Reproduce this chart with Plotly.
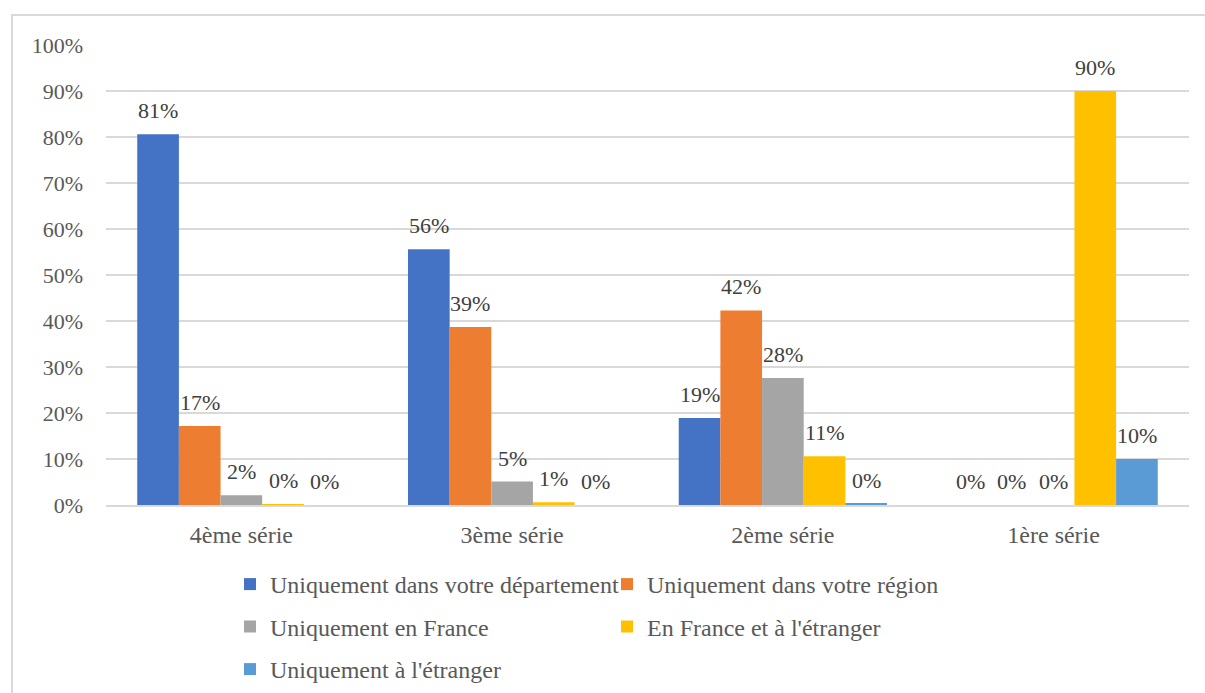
import plotly.graph_objects as go

# Catégories (séries) et parts de chaque zone de diffusion
series = ["4ème série", "3ème série", "2ème série", "1ère série"]
departement = [0.806, 0.556, 0.189, 0.0]
region = [0.172, 0.387, 0.423, 0.0]
france = [0.021, 0.051, 0.276, 0.0]
france_etranger = [0.002, 0.006, 0.106, 0.90]
etranger = [0.0, 0.0, 0.003, 0.10]

noms = [
    "Uniquement dans votre département",
    "Uniquement dans votre région",
    "Uniquement en France",
    "En France et à l'étranger",
    "Uniquement à l'étranger",
]
couleurs = ["#4472C4", "#ED7D31", "#A5A5A5", "#FFC000", "#5B9BD5"]
valeurs = [departement, region, france, france_etranger, etranger]
# ligne de légende (2 entrées par ligne)
lignes_legende = ["legend", "legend", "legend2", "legend2", "legend3"]

FONT = "'Liberation Serif', 'DejaVu Serif', 'Times New Roman', serif"
BARGAP = 0.2308
n = len(valeurs)
largeur = (1 - BARGAP) / n

L, R, T, B = 106, 16, 45, 188
W, H = 1205, 693
pw, ph = W - L - R, H - T - B


def py(y_px):
    """Position verticale en pixels -> coordonnée paper."""
    return 1 - (y_px - T) / ph


def px(x_px):
    """Position horizontale en pixels -> coordonnée paper."""
    return (x_px - L) / pw


fig = go.Figure()
annotations = []
for j, (nom, coul, vals, leg) in enumerate(zip(noms, couleurs, valeurs, lignes_legende)):
    fig.add_trace(go.Bar(
        x=series, y=vals, name=nom, legend=leg,
        marker=dict(color=coul, line=dict(width=0)),
        hoverinfo="skip",
    ))
    for i, v in enumerate(vals):
        annotations.append(dict(
            x=i + (j - (n - 1) / 2) * largeur, y=v, xref="x", yref="y",
            text=f"{round(v * 100):.0f}%", showarrow=False,
            yanchor="bottom", yshift=9,
            font=dict(family=FONT, size=22, color="#404040"),
        ))

# Cadre du graphique
bord = dict(type="rect", xref="paper", yref="paper",
            x0=px(12), x1=px(W + 20), y0=py(H + 20), y1=py(15),
            line=dict(color="#D9D9D9", width=2), fillcolor="rgba(0,0,0,0)",
            layer="below")

legende = dict(
    orientation="h", x=px(230), xanchor="left", yanchor="middle",
    entrywidth=332, entrywidthmode="pixels",
    font=dict(family=FONT, size=24, color="#595959"),
    itemwidth=30, traceorder="normal",
    bgcolor="rgba(0,0,0,0)",
)

fig.update_layout(
    width=W, height=H,
    margin=dict(l=L, r=R, t=T, b=B, autoexpand=False),
    paper_bgcolor="white", plot_bgcolor="white",
    barmode="group", bargap=BARGAP, bargroupgap=0,
    font=dict(family=FONT, color="#595959"),
    annotations=annotations,
    shapes=[bord],
    showlegend=True,
    legend=dict(legende, y=py(584.5)),
    legend2=dict(legende, y=py(627)),
    legend3=dict(legende, y=py(669.5)),
    xaxis=dict(
        type="category", showgrid=False, showline=True,
        linecolor="#D9D9D9", linewidth=1.5, ticks="",
        tickfont=dict(family=FONT, size=24, color="#595959"),
        ticklabelstandoff=7,
    ),
    yaxis=dict(
        range=[0, 1.0], tickformat=".0%", dtick=0.1,
        showgrid=True, gridcolor="#D9D9D9", gridwidth=1.5,
        zeroline=False, showline=False, ticks="",
        tickfont=dict(family=FONT, size=22, color="#595959"),
        ticklabelstandoff=22,
    ),
)

fig.write_html("out.html")
